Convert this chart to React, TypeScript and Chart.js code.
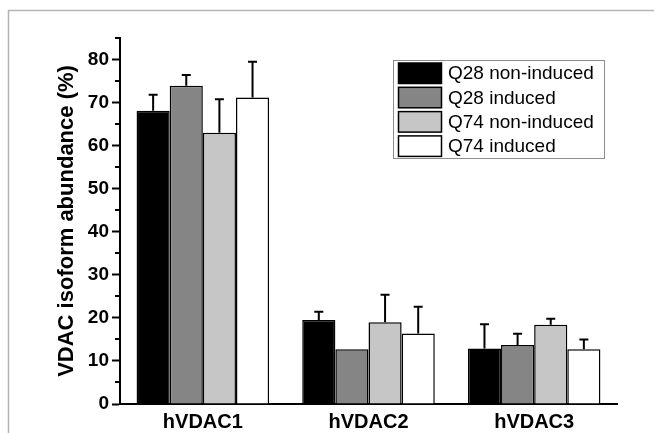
import React, { useEffect, useRef } from "react";
import { Chart, registerables } from "chart.js";

Chart.register(...registerables);

const categories = ["hVDAC1", "hVDAC2", "hVDAC3"];
const seriesLabels = ["Q28 non-induced", "Q28 induced", "Q74 non-induced", "Q74 induced"];
const seriesColors = ["#000000", "#858585", "#c6c6c6", "#ffffff"];
const q28NonInduced = [68.1, 19.5, 12.9];
const q28Induced = [73.9, 12.7, 13.7];
const q74NonInduced = [63.0, 19.0, 18.4];
const q74Induced = [71.2, 16.4, 12.7];
const q28NonInducedErr = [3.7, 1.9, 5.6];
const q28InducedErr = [2.5, 0.0, 2.6];
const q74NonInducedErr = [7.8, 6.4, 1.4];
const q74InducedErr = [8.3, 6.2, 2.3];
const yMin = 0;
const yMax = 85;
const yMajorStep = 10;
const yMinorStep = 5;

const seriesValues = [q28NonInduced, q28Induced, q74NonInduced, q74Induced];
const seriesErrors = [q28NonInducedErr, q28InducedErr, q74NonInducedErr, q74InducedErr];

const framePlugin = {
  id: "frame",
  beforeDraw(chart: any) {
    const ctx = chart.ctx;
    ctx.save();
    ctx.strokeStyle = "#b4b4b4";
    ctx.lineWidth = 1.5;
    ctx.beginPath();
    ctx.moveTo(8.5, chart.height);
    ctx.lineTo(8.5, 10.5);
    ctx.lineTo(chart.width, 10.5);
    ctx.stroke();
    ctx.restore();
  },
};

const minorTickPlugin = {
  id: "minorTicks",
  afterDraw(chart: any) {
    const ctx = chart.ctx;
    const ys = chart.scales.y;
    const left = chart.chartArea.left;
    ctx.save();
    ctx.strokeStyle = "#000";
    ctx.lineWidth = 2;
    for (let v = yMin + yMinorStep; v <= yMax + 1e-9; v += yMajorStep) {
      const py = Math.round(ys.getPixelForValue(v));
      ctx.beginPath();
      ctx.moveTo(left - 5, py);
      ctx.lineTo(left, py);
      ctx.stroke();
    }
    ctx.restore();
  },
};

const errorBarPlugin = {
  id: "errorBars",
  afterDatasetsDraw(chart: any) {
    const ctx = chart.ctx;
    const ys = chart.scales.y;
    ctx.save();
    ctx.strokeStyle = "#000";
    ctx.lineWidth = 2;
    chart.data.datasets.forEach((ds: any, di: number) => {
      const meta = chart.getDatasetMeta(di);
      meta.data.forEach((bar: any, i: number) => {
        const err = seriesErrors[di][i];
        if (!err) return;
        const v = ds.data[i];
        const x = bar.x;
        const y0 = ys.getPixelForValue(v);
        const y1 = ys.getPixelForValue(v + err);
        ctx.beginPath();
        ctx.moveTo(x, y0);
        ctx.lineTo(x, y1);
        ctx.moveTo(x - 4.5, y1);
        ctx.lineTo(x + 4.5, y1);
        ctx.stroke();
      });
    });
    ctx.restore();
  },
};

const legendPlugin = {
  id: "boxLegend",
  afterDraw(chart: any) {
    const ctx = chart.ctx;
    const bx = 393.5, by = 60.5, bw = 211, bh = 98;
    ctx.save();
    ctx.fillStyle = "#fff";
    ctx.fillRect(bx, by, bw, bh);
    ctx.strokeStyle = "#8c8c8c";
    ctx.lineWidth = 1;
    ctx.strokeRect(bx, by, bw, bh);
    ctx.font = "19px 'Liberation Sans', Arial, sans-serif";
    ctx.textBaseline = "middle";
    ctx.textAlign = "left";
    chart.data.datasets.forEach((ds: any, i: number) => {
      const top = 63 + i * 24.3;
      ctx.fillStyle = ds.backgroundColor;
      ctx.fillRect(398.5, top, 43, 20.5);
      ctx.strokeStyle = "#000";
      ctx.lineWidth = 1.5;
      ctx.strokeRect(398.5, top, 43, 20.5);
      ctx.fillStyle = "#000";
      ctx.fillText(ds.label, 448, top + 11);
    });
    ctx.restore();
  },
};

export default function App() {
  const ref = useRef<HTMLCanvasElement | null>(null);
  useEffect(() => {
    if (!ref.current) return;
    const chart = new Chart(ref.current, {
      type: "bar",
      data: {
        labels: categories,
        datasets: seriesLabels.map((label, i) => ({
          label,
          data: seriesValues[i],
          backgroundColor: seriesColors[i],
          borderColor: "#000",
          borderWidth: 1.5,
          categoryPercentage: 0.8,
          barPercentage: 1.0,
        })),
      },
      options: {
        animation: false,
        responsive: true,
        maintainAspectRatio: false,
        layout: { padding: { left: 54, top: 38, right: 37, bottom: 0 } },
        plugins: {
          legend: { display: false },
          tooltip: { enabled: false },
        },
        scales: {
          x: {
            z: 1,
            grid: { display: false, drawTicks: false },
            border: { display: true, color: "#000", width: 2 },
            ticks: {
              color: "#000",
              padding: 6,
              font: { family: "'Liberation Sans', Arial, sans-serif", size: 20, weight: "bold" },
            },
            afterFit(scale: any) {
              scale.height = 29;
            },
          },
          y: {
            z: 1,
            min: yMin,
            max: yMax,
            grid: {
              drawOnChartArea: false,
              drawTicks: true,
              tickLength: 8,
              tickWidth: 2,
              tickColor: "#000",
            },
            border: { display: true, color: "#000", width: 2 },
            ticks: {
              stepSize: yMajorStep,
              includeBounds: false,
              color: "#000",
              padding: 3,
              font: { family: "'Liberation Sans', Arial, sans-serif", size: 19, weight: "bold" },
            },
            title: {
              display: true,
              text: "VDAC isoform abundance (%)",
              color: "#000",
              padding: 0,
              font: { family: "'Liberation Sans', Arial, sans-serif", size: 22, weight: "bold" },
            },
            afterFit(scale: any) {
              scale.width = 66;
            },
          },
        },
      },
      plugins: [framePlugin, minorTickPlugin, errorBarPlugin, legendPlugin],
    });
    return () => chart.destroy();
  }, []);
  return (
    <div style={{ position: "absolute", left: 0, top: 0, width: 654, height: 433, background: "#fff" }}>
      <canvas ref={ref} />
    </div>
  );
}
